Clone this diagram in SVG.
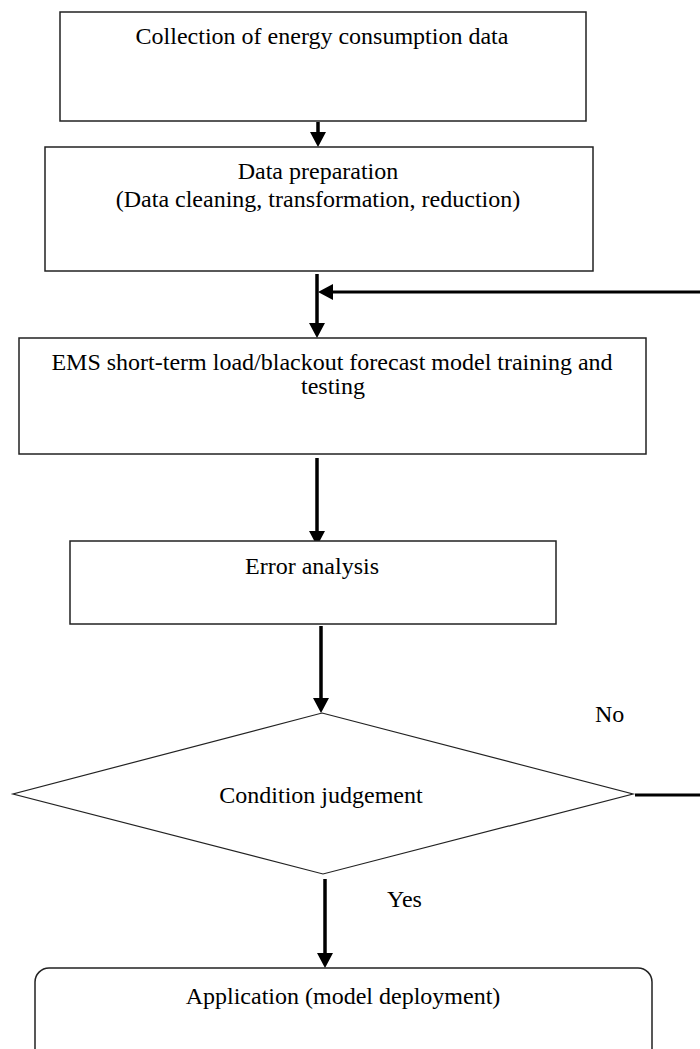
<svg xmlns="http://www.w3.org/2000/svg" width="700" height="1049" viewBox="0 0 700 1049">
  <style>
    .box { fill: #ffffff; stroke: #222222; stroke-width: 1.5; }
    .dia { fill: #ffffff; stroke: #222222; stroke-width: 1.2; }
    .lbl { font-family: "Liberation Serif", "Times New Roman", serif; font-size: 24px; fill: #000000; text-anchor: middle; }
    .txt { font-family: "Liberation Serif", "Times New Roman", serif; font-size: 24px; fill: #000000; }
    .flow { fill: none; stroke: #000000; stroke-width: 3.5; }
    .back { fill: none; stroke: #000000; stroke-width: 3; }
  </style>
  <defs>
    <marker id="arrow" viewBox="0 0 15 16" refX="7" refY="8" markerWidth="15" markerHeight="16" markerUnits="userSpaceOnUse" orient="auto">
      <path d="M0,0 L15,8 L0,16 z" fill="#000000"/>
    </marker>
  </defs>

  <rect width="700" height="1049" fill="#ffffff"/>

  <!-- connectors -->
  <g id="connectors">
    <line class="flow" x1="318" y1="122" x2="318" y2="139" marker-end="url(#arrow)"/>
    <line class="flow" x1="317" y1="274" x2="317" y2="330" marker-end="url(#arrow)"/>
    <path class="back" d="M635,795 H706 V292 H326" marker-end="url(#arrow)"/>
    <line class="flow" x1="317" y1="458" x2="317" y2="538" marker-end="url(#arrow)"/>
    <line class="flow" x1="321" y1="626" x2="321" y2="705" marker-end="url(#arrow)"/>
    <line class="flow" x1="325" y1="879" x2="325" y2="960" marker-end="url(#arrow)"/>
    <text class="txt" x="595" y="722">No</text>
    <text class="txt" x="387" y="907">Yes</text>
  </g>

  <!-- nodes -->
  <g id="collect">
    <rect class="box" x="60" y="12" width="526" height="109"/>
    <text class="lbl" x="322" y="44">Collection of energy consumption data</text>
  </g>

  <g id="prepare">
    <rect class="box" x="45" y="147" width="548" height="124"/>
    <text class="lbl" x="318" y="179">Data preparation</text>
    <text class="lbl" x="318" y="207">(Data cleaning, transformation, reduction)</text>
  </g>

  <g id="train">
    <rect class="box" x="19" y="338" width="627" height="116"/>
    <text class="lbl" x="332" y="370">EMS short-term load/blackout forecast model training and</text>
    <text class="lbl" x="333" y="394">testing</text>
  </g>

  <g id="error">
    <rect class="box" x="70" y="541" width="486" height="83"/>
    <text class="lbl" x="312" y="574">Error analysis</text>
  </g>

  <g id="judge">
    <polygon class="dia" points="322,713 633,794 323,874 13,794"/>
    <text class="lbl" x="321" y="803">Condition judgement</text>
  </g>

  <g id="deploy">
    <rect class="box" x="35" y="968" width="617" height="110" rx="14" ry="14"/>
    <text class="lbl" x="343" y="1004">Application (model deployment)</text>
  </g>
</svg>
